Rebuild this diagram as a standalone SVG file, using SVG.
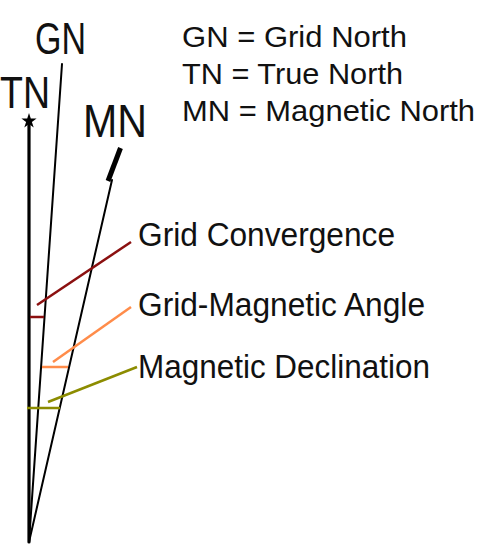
<svg xmlns="http://www.w3.org/2000/svg" width="500" height="560" viewBox="0 0 500 560">
<style>
  .big{font-family:"Liberation Sans",Arial,sans-serif;fill:#111}
  .lbl{font-family:"Liberation Sans",Arial,sans-serif;fill:#111;font-size:30px}
  .lbl2{font-family:"Liberation Sans",Arial,sans-serif;fill:#111;font-size:34px}
  .north{stroke:#000;fill:none;stroke-linecap:round}
</style>
<rect width="500" height="560" fill="#fff"/>
<g id="connectors">
  <line class="north" x1="29" y1="124" x2="29" y2="542" stroke-width="3.2"/>
  <line class="north" x1="62" y1="64" x2="29" y2="542" stroke-width="2"/>
  <line class="north" x1="112" y1="180" x2="29" y2="542" stroke-width="2"/>
  <line x1="120.5" y1="148" x2="108" y2="181" stroke="#000" stroke-width="5"/>
  <g id="grid-convergence-pointer" stroke="#8b1010" stroke-width="2.5" fill="none">
    <line x1="131" y1="242" x2="37" y2="305"/>
    <line x1="30" y1="317" x2="44" y2="317"/>
  </g>
  <g id="grid-magnetic-pointer" stroke="#ff8c4a" stroke-width="2.5" fill="none">
    <line x1="131" y1="307" x2="53" y2="362"/>
    <line x1="42" y1="367" x2="68" y2="367"/>
  </g>
  <g id="declination-pointer" stroke="#8c8c00" stroke-width="2.5" fill="none">
    <line x1="137" y1="367" x2="48" y2="402"/>
    <line x1="27" y1="408" x2="60" y2="408"/>
  </g>
</g>
<g id="tn-star">
  <polygon points="29,113 30.8,118.5 36.6,118.5 31.9,121.9 33.7,127.4 29,124 24.3,127.4 26.1,121.9 21.4,118.5 27.2,118.5" fill="#000"/>
</g>
<g id="gn-label"><text class="big" x="35" y="54" font-size="44" textLength="51" lengthAdjust="spacingAndGlyphs">GN</text></g>
<g id="tn-label"><text class="big" x="0" y="108" font-size="44" textLength="50" lengthAdjust="spacingAndGlyphs">TN</text></g>
<g id="mn-label"><text class="big" x="83" y="137" font-size="46" textLength="64" lengthAdjust="spacingAndGlyphs">MN</text></g>
<g id="legend">
  <text class="lbl" x="182" y="47" textLength="225" lengthAdjust="spacingAndGlyphs">GN = Grid North</text>
  <text class="lbl" x="182" y="84" textLength="221" lengthAdjust="spacingAndGlyphs">TN = True North</text>
  <text class="lbl" x="182" y="121" textLength="293" lengthAdjust="spacingAndGlyphs">MN = Magnetic North</text>
</g>
<g id="grid-convergence-label"><text class="lbl2" x="138" y="246" textLength="257" lengthAdjust="spacingAndGlyphs">Grid Convergence</text></g>
<g id="grid-magnetic-label"><text class="lbl2" x="138" y="316" textLength="287" lengthAdjust="spacingAndGlyphs">Grid-Magnetic Angle</text></g>
<g id="declination-label"><text class="lbl2" x="138" y="378" textLength="292" lengthAdjust="spacingAndGlyphs">Magnetic Declination</text></g>
</svg>
